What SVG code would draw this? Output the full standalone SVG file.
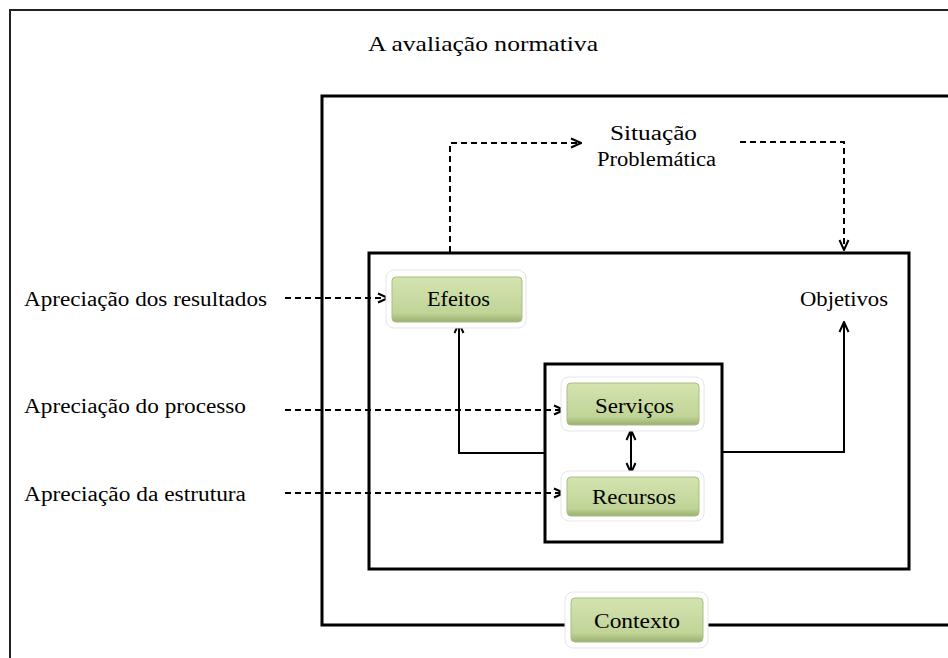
<svg xmlns="http://www.w3.org/2000/svg" width="948" height="658" viewBox="0 0 948 658">
<defs>
<linearGradient id="g" x1="0" y1="0" x2="0" y2="1">
<stop offset="0" stop-color="#d4e4b0"/>
<stop offset="0.8" stop-color="#c0d497"/>
<stop offset="1" stop-color="#9cb070"/>
</linearGradient>
<marker id="ah" viewBox="0 0 12 12" refX="11" refY="6" markerWidth="12" markerHeight="12" markerUnits="userSpaceOnUse" orient="auto-start-reverse">
<path d="M1,1.5 L11,6 L1,10.5" fill="none" stroke="#000" stroke-width="2"/>
</marker>
</defs>
<style>
text{font-family:"Liberation Serif","DejaVu Serif","Times New Roman",serif;font-size:20px;fill:#000}
.box{fill:url(#g);stroke:#a9bd82;stroke-width:1}
.glow{fill:#fff;stroke:#e6e6e6;stroke-width:1}
.frame{fill:none;stroke:#000;stroke-width:3}
.dash{fill:none;stroke:#000;stroke-width:2;stroke-dasharray:6,4}
.solid{fill:none;stroke:#000;stroke-width:2}
</style>
<rect width="948" height="658" fill="#fff"/>
<path d="M10,658 V10 H948" fill="none" stroke="#222" stroke-width="2"/>
<text x="368" y="51" textLength="230" lengthAdjust="spacingAndGlyphs" font-family="Liberation Serif, serif" style="font-size:22px">A avaliação normativa</text>
<g id="frames">
<path class="frame" d="M949,96 H322 V625 H949"/>
<rect class="frame" x="369" y="253" width="540" height="316"/>
<rect class="frame" x="545" y="364" width="177" height="178"/>
</g>
<g id="connectors">
<path class="dash" d="M450,252 V143 H581" marker-end="url(#ah)"/>
<path class="dash" d="M740,142 H844 V250" marker-end="url(#ah)"/>
<path class="dash" d="M285,298 H388" marker-end="url(#ah)"/>
<path class="dash" d="M285,410 H564" marker-end="url(#ah)"/>
<path class="dash" d="M285,493 H564" marker-end="url(#ah)"/>
<path class="solid" d="M545,453 H459 V323" marker-end="url(#ah)"/>
<path class="solid" d="M722,452 H844 V322" marker-end="url(#ah)"/>
<path class="solid" d="M631,430 V473" stroke-width="3" marker-start="url(#ah)" marker-end="url(#ah)"/>
</g>
<g id="situacao">
<text x="610" y="140" textLength="87" lengthAdjust="spacingAndGlyphs">Situação</text>
<text x="597" y="166" textLength="119" lengthAdjust="spacingAndGlyphs">Problemática</text>
</g>
<g id="efeitos">
<rect class="glow" x="386" y="270" width="140" height="58" rx="8"/>
<rect class="box" x="392" y="277" width="130" height="45" rx="4"/>
<text x="427" y="306" textLength="63" lengthAdjust="spacingAndGlyphs">Efeitos</text>
</g>
<g id="objetivos">
<text x="800" y="306" textLength="88" lengthAdjust="spacingAndGlyphs">Objetivos</text>
</g>
<g id="servicos">
<rect class="glow" x="561" y="377" width="143" height="54" rx="8"/>
<rect class="box" x="567" y="383" width="132" height="42" rx="4"/>
<text x="595" y="413" textLength="79" lengthAdjust="spacingAndGlyphs">Serviços</text>
</g>
<g id="recursos">
<rect class="glow" x="561" y="471" width="143" height="50" rx="8"/>
<rect class="box" x="567" y="477" width="132" height="39" rx="4"/>
<text x="592" y="504" textLength="84" lengthAdjust="spacingAndGlyphs">Recursos</text>
</g>
<g id="contexto">
<rect class="glow" x="565" y="592" width="143" height="56" rx="8"/>
<rect class="box" x="571" y="598" width="132" height="44" rx="4"/>
<text x="594" y="628" textLength="86" lengthAdjust="spacingAndGlyphs">Contexto</text>
</g>
<g id="labels">
<text x="24" y="306" textLength="243" lengthAdjust="spacingAndGlyphs">Apreciação dos resultados</text>
<text x="24" y="413" textLength="222" lengthAdjust="spacingAndGlyphs">Apreciação do processo</text>
<text x="24" y="501" textLength="222" lengthAdjust="spacingAndGlyphs">Apreciação da estrutura</text>
</g>
</svg>
